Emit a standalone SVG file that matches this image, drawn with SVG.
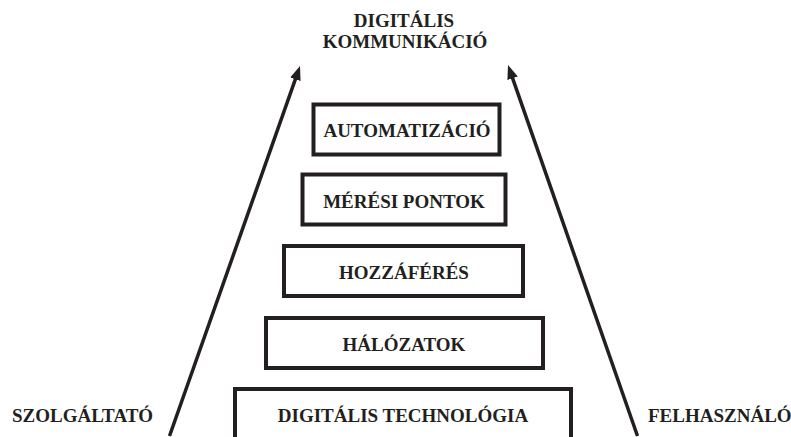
<svg xmlns="http://www.w3.org/2000/svg" width="791" height="437" viewBox="0 0 791 437">
  <defs>
    <style>
      .box { fill: #ffffff; stroke: #231f20; stroke-width: 4; }
      .lbl { font-family: "Liberation Serif", "Times New Roman", serif; font-weight: bold; font-size: 19px; fill: #231f20; text-anchor: middle; }
      .side { font-family: "Liberation Serif", "Times New Roman", serif; font-weight: bold; font-size: 19px; fill: #231f20; }
      .arrow { stroke: #231f20; stroke-width: 3.5; fill: none; marker-end: url(#head); }
    </style>
    <marker id="head" markerUnits="userSpaceOnUse" markerWidth="16" markerHeight="12" viewBox="0 -6 16 12" refX="6" refY="0" orient="auto">
      <path d="M0,-5.5 L14,0 L0,5.5 z" fill="#231f20"/>
    </marker>
  </defs>
  <rect width="791" height="437" fill="#ffffff"/>

  <g id="title">
    <text class="lbl" x="404" y="27">DIGITÁLIS</text>
    <text class="lbl" x="405" y="48">KOMMUNIKÁCIÓ</text>
  </g>

  <g id="connectors">
    <line class="arrow" x1="169.5" y1="436" x2="297.35" y2="73.55"/>
    <line class="arrow" x1="637.5" y1="436" x2="510.64" y2="72.55"/>
  </g>

  <g id="automatizacio">
    <rect class="box" x="313.5" y="104.5" width="186" height="50"/>
    <text class="lbl" x="407" y="137">AUTOMATIZÁCIÓ</text>
  </g>
  <g id="meresi-pontok">
    <rect class="box" x="302.5" y="174.5" width="203" height="50"/>
    <text class="lbl" x="404" y="207.5">MÉRÉSI PONTOK</text>
  </g>
  <g id="hozzaferes">
    <rect class="box" x="284" y="246" width="239" height="50"/>
    <text class="lbl" x="404" y="279">HOZZÁFÉRÉS</text>
  </g>
  <g id="halozatok">
    <rect class="box" x="266" y="318" width="277" height="50"/>
    <text class="lbl" x="404" y="351">HÁLÓZATOK</text>
  </g>
  <g id="digitalis-technologia">
    <rect class="box" x="235" y="389" width="336" height="60"/>
    <text class="lbl" x="403" y="421.5">DIGITÁLIS TECHNOLÓGIA</text>
  </g>

  <g id="szolgaltato">
    <text class="side" x="12" y="421.5">SZOLGÁLTATÓ</text>
  </g>
  <g id="felhasznalo">
    <text class="side" x="648" y="421.5">FELHASZNÁLÓ</text>
  </g>
</svg>
